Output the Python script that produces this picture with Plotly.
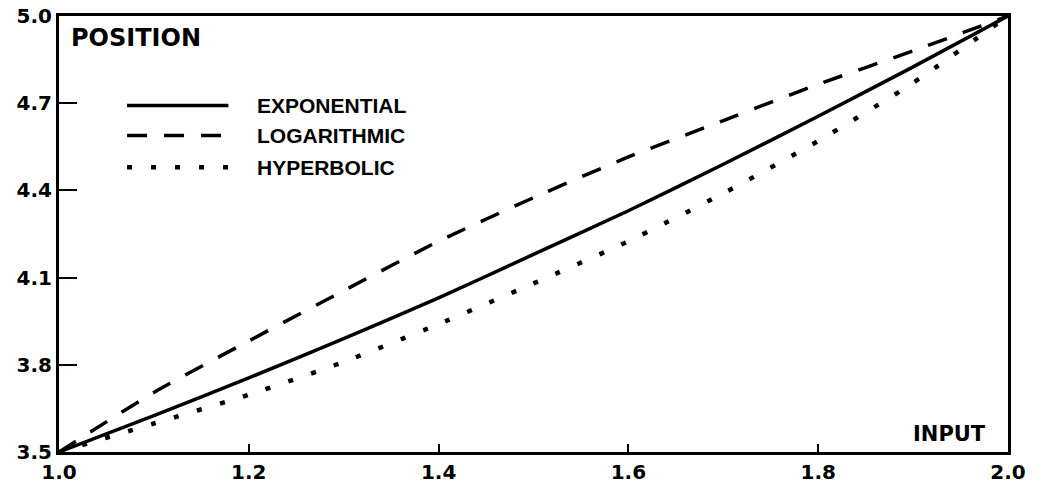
import plotly.graph_objects as go

# Input values (x axis) and the three transfer curves (position vs input)
inputs = [1.0, 1.1, 1.2, 1.3, 1.4, 1.5, 1.6, 1.7, 1.8, 1.9, 2.0]
exponential = [3.50, 3.625, 3.755, 3.89, 4.03, 4.18, 4.33, 4.49, 4.655, 4.825, 5.0]
logarithmic = [3.50, 3.705, 3.882, 4.055, 4.225, 4.375, 4.515, 4.64, 4.765, 4.88, 5.0]
hyperbolic = [3.50, 3.598, 3.697, 3.81, 3.94, 4.08, 4.225, 4.39, 4.57, 4.77, 5.0]

x_ticks = [1.0, 1.2, 1.4, 1.6, 1.8, 2.0]
y_ticks = [3.5, 3.8, 4.1, 4.4, 4.7, 5.0]

series_names = ["EXPONENTIAL", "LOGARITHMIC", "HYPERBOLIC"]
series_values = [exponential, logarithmic, hyperbolic]
dash_styles = ["solid", "20px,17px", "5px,19px"]
line_widths = [3.5, 3.5, 4.5]

INK = "#000000"
TICK_FONT = dict(family="DejaVu Sans", size=20, color=INK, weight="bold")
TITLE_FONT = dict(family="DejaVu Sans", size=24, color=INK, weight="bold")
LABEL_FONT = dict(family="DejaVu Sans", size=21, color=INK, weight="bold")
KEY_FONT = dict(family="Liberation Sans", size=21, color=INK, weight="bold")

fig = go.Figure()
for name, vals, dash, lw in zip(series_names, series_values, dash_styles, line_widths):
    fig.add_trace(go.Scatter(
        x=inputs, y=vals, name=name, mode="lines",
        line=dict(color=INK, width=lw, dash=dash, shape="spline", smoothing=0.6),
        showlegend=False,
    ))

# Hand-drawn style key: long line samples with labels to the right
key_rows = [0.795, 0.726, 0.653]
for name, dash, lw, ky in zip(series_names, dash_styles, line_widths, key_rows):
    fig.add_shape(type="line", xref="paper", yref="paper",
                  x0=0.0717, x1=0.1785, y0=ky, y1=ky,
                  line=dict(color=INK, width=lw, dash=dash))
    fig.add_annotation(xref="paper", yref="paper", x=0.2065, y=ky,
                       xanchor="left", yanchor="middle", text=name,
                       showarrow=False, font=KEY_FONT)

fig.add_annotation(xref="paper", yref="paper", x=0, y=1, xshift=10, yshift=-6,
                   xanchor="left", yanchor="top", text="POSITION",
                   showarrow=False, font=TITLE_FONT)
fig.add_annotation(xref="paper", yref="paper", x=1, y=0, xshift=-20, yshift=4,
                   xanchor="right", yanchor="bottom", text="INPUT",
                   showarrow=False, font=LABEL_FONT)

axis_common = dict(
    showgrid=False, zeroline=False, showline=True, linecolor=INK, linewidth=3,
    mirror=True, ticks="inside", tickcolor=INK, tickwidth=2,
    tickfont=TICK_FONT, tickformat=".1f", automargin=False,
)
fig.update_xaxes(range=[1.0, 2.0], tickvals=x_ticks, ticklen=8, **axis_common)
fig.update_yaxes(range=[3.5, 5.0], tickvals=y_ticks, ticklen=18, **axis_common)

fig.update_layout(
    width=1041, height=498,
    margin=dict(l=59, r=33, t=16, b=46),
    paper_bgcolor="white", plot_bgcolor="white",
)

fig.write_html("out.html")
